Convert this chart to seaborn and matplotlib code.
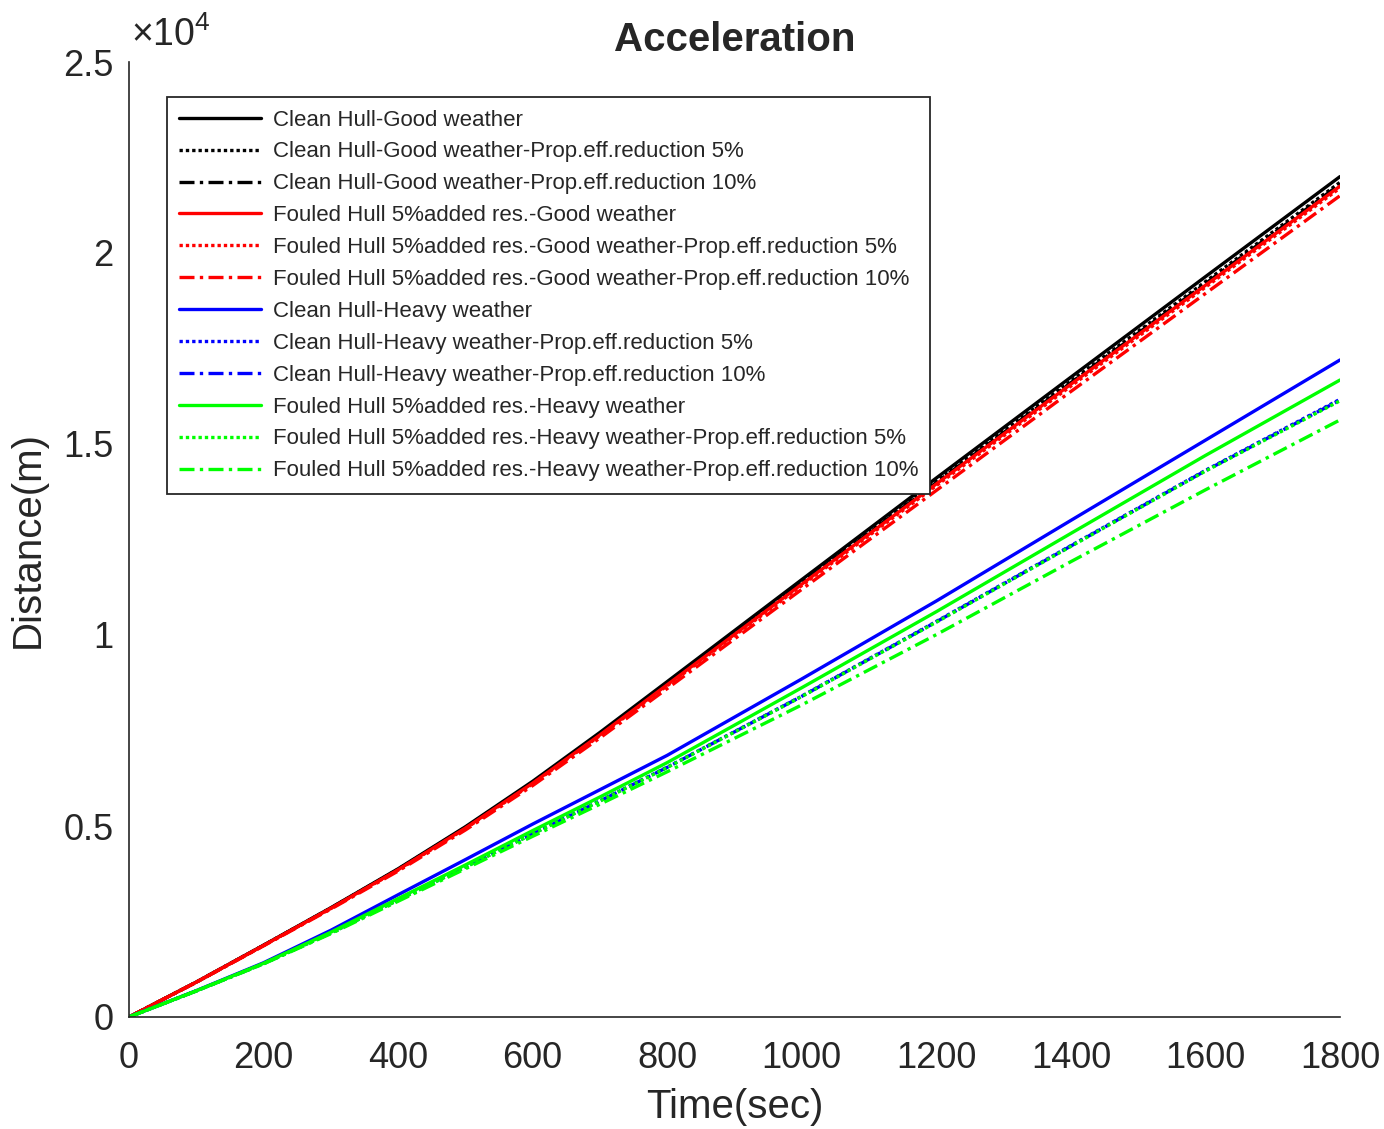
import matplotlib
matplotlib.use("Agg")
import matplotlib.pyplot as plt
from matplotlib.ticker import FuncFormatter
import seaborn as sns

# time axis (sec)
time = [0, 100, 200, 300, 400, 500, 600, 700, 800, 1000, 1200, 1400, 1600, 1800]

# distance (m)
clean_good = [0, 915, 1880, 2860, 3880, 4980, 6170, 7450, 8780, 11450, 14110, 16750, 19380, 22000]
clean_good_p5 = [0, 914, 1877, 2853, 3868, 4962, 6145, 7415, 8735, 11385, 14025, 16650, 19250, 21850]
clean_good_p10 = [0, 913, 1875, 2850, 3862, 4955, 6135, 7402, 8718, 11360, 13990, 16605, 19200, 21800]
fouled_good = [0, 912, 1873, 2846, 3855, 4945, 6122, 7385, 8698, 11330, 13955, 16565, 19155, 21750]
fouled_good_p5 = [0, 911, 1870, 2840, 3845, 4932, 6105, 7365, 8672, 11295, 13910, 16515, 19105, 21700]
fouled_good_p10 = [0, 908, 1862, 2825, 3820, 4895, 6058, 7305, 8598, 11195, 13785, 16375, 18940, 21500]
clean_heavy = [0, 690, 1420, 2270, 3200, 4120, 5050, 5950, 6850, 8850, 10890, 13000, 15100, 17200]
clean_heavy_p5 = [0, 683, 1398, 2200, 3065, 3930, 4800, 5660, 6540, 8400, 10355, 12340, 14310, 16170]
clean_heavy_p10 = [0, 683, 1397, 2198, 3060, 3925, 4795, 5655, 6535, 8395, 10345, 12330, 14300, 16150]
fouled_heavy = [0, 685, 1405, 2220, 3100, 3980, 4880, 5760, 6660, 8620, 10610, 12660, 14700, 16675]
fouled_heavy_p5 = [0, 682, 1396, 2196, 3057, 3920, 4790, 5650, 6530, 8388, 10335, 12320, 14290, 16130]
fouled_heavy_p10 = [0, 680, 1390, 2180, 3030, 3880, 4730, 5570, 6420, 8170, 10010, 11920, 13800, 15630]

labels = [
    "Clean Hull-Good weather",
    "Clean Hull-Good weather-Prop.eff.reduction 5%",
    "Clean Hull-Good weather-Prop.eff.reduction 10%",
    "Fouled Hull 5%added res.-Good weather",
    "Fouled Hull 5%added res.-Good weather-Prop.eff.reduction 5%",
    "Fouled Hull 5%added res.-Good weather-Prop.eff.reduction 10%",
    "Clean Hull-Heavy weather",
    "Clean Hull-Heavy weather-Prop.eff.reduction 5%",
    "Clean Hull-Heavy weather-Prop.eff.reduction 10%",
    "Fouled Hull 5%added res.-Heavy weather",
    "Fouled Hull 5%added res.-Heavy weather-Prop.eff.reduction 5%",
    "Fouled Hull 5%added res.-Heavy weather-Prop.eff.reduction 10%",
]
series = [clean_good, clean_good_p5, clean_good_p10,
          fouled_good, fouled_good_p5, fouled_good_p10,
          clean_heavy, clean_heavy_p5, clean_heavy_p10,
          fouled_heavy, fouled_heavy_p5, fouled_heavy_p10]

colors = ["#000000"] * 3 + ["#FF0000"] * 3 + ["#0000FF"] * 3 + ["#00FF00"] * 3
solid = "-"
dotted = (0, (1, 0.9))
dashdot = (0, (4.5, 1.6, 1, 1.6))
styles = [solid, dotted, dashdot] * 4

sns.set_style("white")
plt.rcParams["font.family"] = ["Liberation Sans", "DejaVu Sans"]
plt.rcParams["mathtext.fontset"] = "custom"
plt.rcParams["mathtext.rm"] = "Liberation Sans"
plt.rcParams["mathtext.it"] = "Liberation Sans"

fig = plt.figure(figsize=(13.84, 11.29), dpi=100)
ax = fig.add_axes([129 / 1384, 1 - 1017 / 1129, 1211 / 1384, 955 / 1129])

for y, lab, c, ls in zip(series, labels, colors, styles):
    sns.lineplot(x=time, y=y, ax=ax, color=c, linestyle=ls, linewidth=2.4, label=lab)

ax.set_xlim(0, 1800)
ax.set_ylim(0, 25000)
ax.set_xticks(range(0, 1801, 200))
ax.set_yticks([0, 5000, 10000, 15000, 20000, 25000])
ax.yaxis.set_major_formatter(FuncFormatter(lambda v, p: f"{v / 1e4:g}"))

dark = "#262626"
for s in ["top", "right"]:
    ax.spines[s].set_visible(False)
for s in ["left", "bottom"]:
    ax.spines[s].set_color(dark)
    ax.spines[s].set_linewidth(1.2)
ax.tick_params(direction="in", length=10, width=1.2, colors=dark, labelsize=26)
ax.tick_params(axis="x", pad=17)
ax.tick_params(axis="y", pad=11)

ax.set_xlabel("Time(sec)", fontsize=29, color=dark, labelpad=9)
ax.set_ylabel("Distance(m)", fontsize=29, color=dark, labelpad=12)
ax.set_title("Acceleration", fontsize=29, fontweight="bold", pad=8)
ax.text(0.002, 1.008, r"$\times10^{4}$", transform=ax.transAxes, fontsize=27,
        color=dark, ha="left", va="bottom")

leg = ax.legend(loc="upper left", bbox_to_anchor=(0.0314, 0.963), borderaxespad=0,
                fontsize=16, handlelength=3.7, handletextpad=0.5, labelspacing=0.49,
                borderpad=0.55, fancybox=False, framealpha=1, edgecolor="#262626")
leg.get_frame().set_linewidth(1.3)

fig.savefig("out.png", dpi=100)
